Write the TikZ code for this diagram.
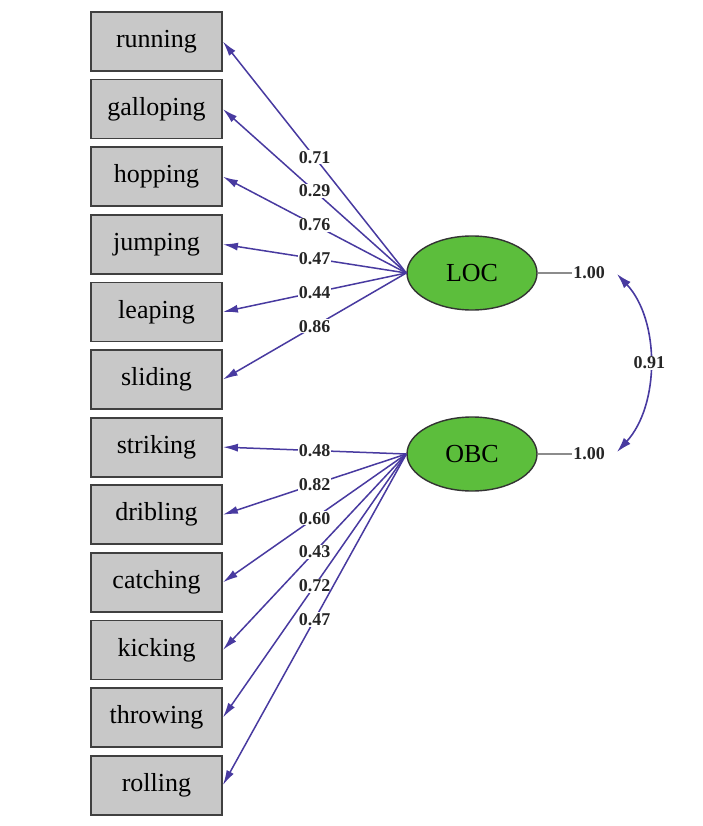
\documentclass[tikz,border=0pt]{standalone}
\usepackage{fontspec}
\setmainfont{Liberation Serif}
\usetikzlibrary{shapes.geometric,arrows.meta}
\definecolor{pathblue}{RGB}{72,58,160}
\definecolor{boxgray}{RGB}{200,200,200}
\definecolor{latgreen}{RGB}{92,190,60}
\tikzset{
  obs/.style={draw=black!75, line width=1.8pt, fill=boxgray, minimum width=131pt, minimum height=59pt, inner sep=0pt, font=\fontsize{26}{26}\selectfont},
  lat/.style={ellipse, draw=black!80, line width=1.4pt, fill=latgreen, minimum width=130pt, minimum height=74pt, inner sep=0pt, font=\fontsize{26}{26}\selectfont},
  load/.style={draw=pathblue, line width=1.5pt, -{Latex[length=15pt,width=8pt]}},
  lbl/.style={fill=white, inner sep=1pt, font=\fontsize{18}{18}\selectfont\bfseries, text=black!85},
  varline/.style={draw=black!45, line width=1.4pt},
  covar/.style={draw=pathblue, line width=1.6pt, {Latex[length=15pt,width=9pt]}-{Latex[length=15pt,width=9pt]}}
}
\begin{document}
\begin{tikzpicture}[x=1pt,y=-1pt]
\useasboundingbox[fill=white] (0,0) rectangle (702,826);
% observed variables
\foreach \n/\t [count=\i from 0] in {run/running,gal/galloping,hop/hopping,jum/jumping,lea/leaping,sli/sliding,str/striking,dri/dribling,cat/catching,kic/kicking,thr/throwing,rol/rolling}{
  \node[obs] (\n) at (156.5,{41.5+67.6*\i}) {\t};
}
% latent variables
\node[lat] (loc) at (472,273) {LOC};
\node[lat] (obc) at (472,454) {OBC};
% loadings LOC
\foreach \n/\v in {run/0.71,gal/0.29,hop/0.76,jum/0.47,lea/0.44,sli/0.86}{
  \draw[load] (loc.west) -- node[lbl,pos=0.5]{\v} (\n.east);
}
% loadings OBC
\foreach \n/\v in {str/0.48,dri/0.82,cat/0.60,kic/0.43,thr/0.72,rol/0.47}{
  \draw[load] (obc.west) -- node[lbl,pos=0.5]{\v} (\n.east);
}
% variances
\node[lbl, fill=none] (v1) at (589,273) {1.00};
\node[lbl, fill=none] (v2) at (589,454) {1.00};
\draw[varline] (loc.east) -- (v1.west);
\draw[varline] (obc.east) -- (v2.west);
% covariance
\coordinate (c1) at (617,274);
\coordinate (c2) at (617,452);
\draw[covar] (c1) .. controls (660,320) and (660,405) .. node[lbl,pos=0.5]{0.91} (c2);
\end{tikzpicture}
\end{document}
